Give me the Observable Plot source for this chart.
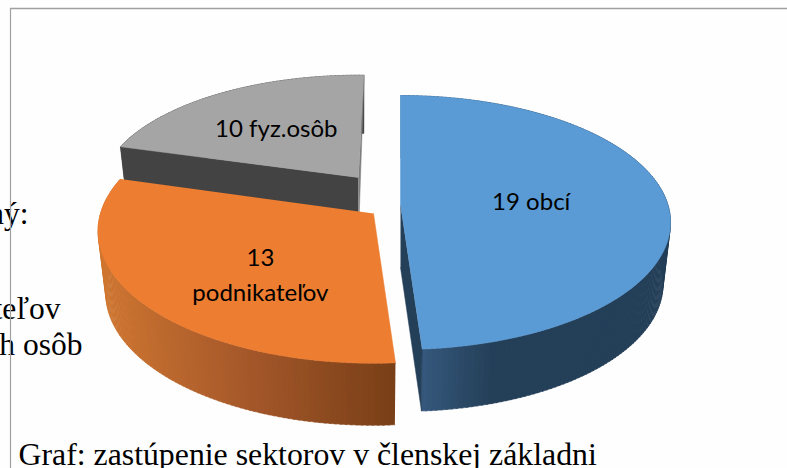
<!DOCTYPE html>
<html>
<head>
<meta charset="utf-8">
<style>
html,body{margin:0;padding:0;background:#fefefe;overflow:hidden}
svg{display:block}
</style>
<script src="https://cdn.jsdelivr.net/npm/d3@7"></script>
<script src="https://cdn.jsdelivr.net/npm/@observablehq/plot@0.6"></script>
</head>
<body>
<script>
// values
const counts = [19, 13, 10];
const names = ["obcí", "podnikateľov", "fyz.osôb"];
// slice sweeps as seen in the picture (degrees of the drawn 3D disc)
const sweeps = [176, 110, 75.4];
const topColors = ["#5b9bd5", "#ed7d31", "#a5a5a5"];
const wallStops = [["#35587c", "#243f58", "#243f58"], ["#cf7631", "#a5582a", "#793f17"], ["#434343", "#434343", "#434343"]];

// 3D scene
const view = {k: 0.134, A: 267.6, B: 124.7, sx: 0.972};
const apexX = [400, 373, 358];
const apexY = [205, 213, 177];
const scaleA = [1, 1.02, 0.96];
const scaleB = [1, 1.04, 0.93];
const depth = [62, 62, 58];
const labelTheta = [88, 220.4, 322];
const labelR = [0.49, 0.6, 0.55];

const rad = Math.PI / 180;
function project(i, thetaDeg, r, level) {
  const a = Math.sin(thetaDeg * rad) * r, b = Math.cos(thetaDeg * rad) * r;
  const w = 1 + view.k * b;
  const fx = level ? view.sx : 1;
  return {
    x: apexX[i] + fx * scaleA[i] * view.A * a / w,
    y: apexY[i] + (level ? depth[i] : 0) - scaleB[i] * view.B * b / w
  };
}

let start = 0;
const spans = sweeps.map((s) => { const v = [start, start + s]; start += s; return v; });
const rows = [];
let nid = 0;
function poly(color, pts) { const id = nid++; for (const p of pts) rows.push({id, color, x: p.x, y: p.y}); }

function drawSlice(i) {
  const t0 = spans[i][0], t1 = spans[i][1];
  const xs = [];
  for (let t = t0; t < t1; t += 1) xs.push(t);
  xs.push(t1);
  const xExtent = d3.extent(xs, (t) => project(i, t, 1, 0).x);
  const ramp0 = d3.scaleLinear().domain([0, 0.35, 1]).range(wallStops[0]);
  const ramp1 = d3.scaleLinear().domain([0, 0.5, 1]).range(wallStops[1]);
  // outer wall strips
  for (let j = 0; j + 1 < xs.length; j++) {
    const px = project(i, xs[j], 1, 0).x;
    const u = (px - xExtent[0]) / (xExtent[1] - xExtent[0]);
    const c = i === 0 ? ramp0(Math.max(0, (px - 425) / 200)) : i === 1 ? ramp1(u) : wallStops[2][0];
    const tn = Math.min(xs[j + 1] + 0.3, t1);
    poly(c, [project(i, xs[j], 1, 0), project(i, tn, 1, 0), project(i, tn, 1, 1), project(i, xs[j], 1, 1)]);
  }
  // radial walls
  if (i === 0) poly("#243f58", [project(i, 0, 0, 0), project(i, t1, 1, 0), project(i, t1, 1, 1), project(i, 0, 0, 1)]);
  if (i === 2) {
    poly("#434343", [project(i, 0, 0, 0), project(i, t0, 1, 0), project(i, t0, 1, 1), project(i, 0, 0, 1)]);
    poly("#7f7f7f", [project(i, 0, 0, 0), project(i, t1, 1, 0), project(i, 0, 0, 1)]);
  }
  // top face
  const face = [project(i, 0, 0, 0)];
  for (const t of xs) face.push(project(i, t, 1, 0));
  poly(topColors[i], face);
}
// back to front: grey, orange, blue
[2, 1, 0].forEach(drawSlice);

const labels = counts.map((c, i) => ({
  text: i === 1 ? `${c}\n${names[i]}` : `${c} ${names[i]}`,
  ...project(i, labelTheta[i], labelR[i], 0)
}));

const caption = ["Graf: zastúpenie sektorov v členskej základni"];
const sideText = ["ný:", "teľov", "h osôb"];
const sideEnd = [28, 60, 82];
const sideY = [213, 308, 344];

const chart = Plot.plot({
  width: 787, height: 468, margin: 0,
  x: {domain: [0, 787], axis: null},
  y: {domain: [468, 0], axis: null},
  style: {background: "#fefefe"},
  marks: [
    Plot.line(rows, {x: "x", y: "y", z: "id", fill: "color", stroke: "color", strokeWidth: 0.5}),
    Plot.text(labels, {x: "x", y: "y", dy: -4, text: "text", fontFamily: "Lato", fontSize: 24, lineHeight: 1.42, fill: "#000", textAnchor: "middle"}),
    Plot.text(sideText, {x: (d, i) => sideEnd[i], y: (d, i) => sideY[i], text: (d) => d, fontFamily: "Liberation Serif", fontSize: 31.5, fill: "#000", textAnchor: "end"}),
    Plot.text(caption, {x: () => 18, y: () => 454, text: (d) => d, fontFamily: "Liberation Serif", fontSize: 31.8, fill: "#000", textAnchor: "start"}),
    Plot.ruleY([8], {x1: 10, x2: 787, stroke: "#a0a0a0", strokeWidth: 1.5}),
    Plot.ruleX([10], {y1: 8, y2: 468, stroke: "#a0a0a0", strokeWidth: 1.2})
  ]
});
document.body.appendChild(chart);
</script>
</body>
</html>
